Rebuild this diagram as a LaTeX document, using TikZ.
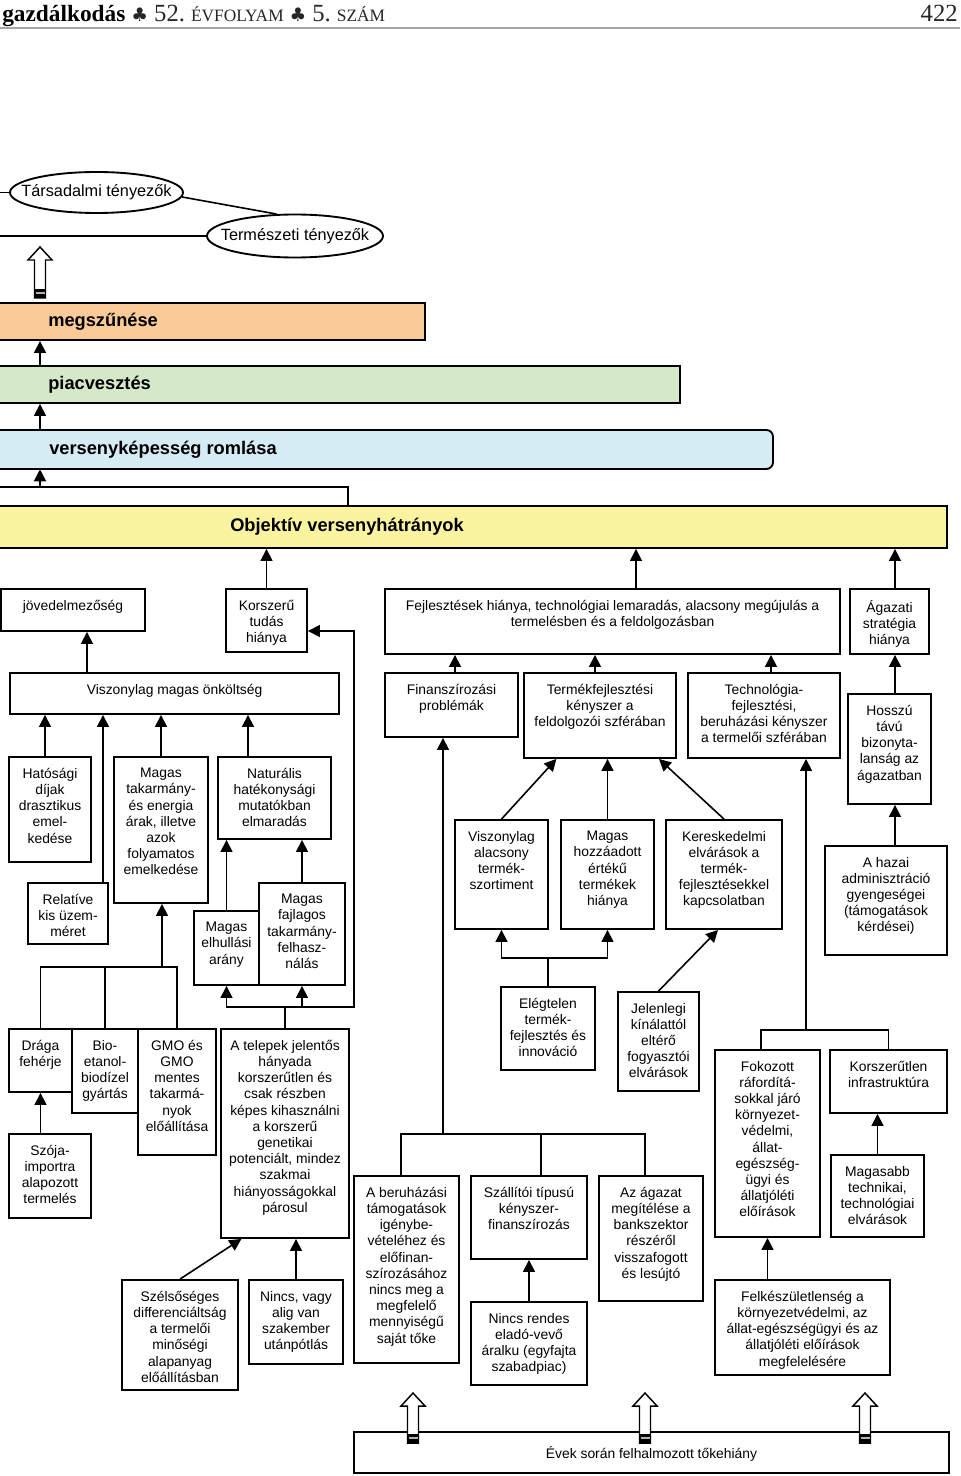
\documentclass[tikz,border=0pt]{standalone}
\usepackage{fontspec}
\setmainfont{Liberation Sans}
\newfontfamily\hdrfont{Liberation Serif}
\newfontfamily\symfont{DejaVu Sans}
\usepackage{xcolor}
\usepackage{tikz}
\usetikzlibrary{arrows.meta,fit,shapes.geometric}

\definecolor{peach}{RGB}{250,202,152}
\definecolor{sage}{RGB}{213,232,200}
\definecolor{skyblue}{RGB}{214,236,245}
\definecolor{lemon}{RGB}{250,244,160}

% box with its text set at the top
\newcommand{\cause}[6]{%
  \node[block, fit={(#2,#3)(#4,#5)}] (#1) {};
  \node[txt] (#1-t) at ([yshift=-8.8pt]#1.north) {#6};
}
% hollow block arrow: x, tip, bottom
\newcommand{\hollowarrow}[3]{%
  \draw[line width=1.1pt, fill=white] (#1-5.5,#3) -- (#1-5.5,#2+13) -- (#1-12,#2+13) -- (#1,#2)
    -- (#1+12,#2+13) -- (#1+5.5,#2+13) -- (#1+5.5,#3) -- cycle;
  \fill (#1-5.5,#3-9) rectangle (#1+5.5,#3);
  \draw[gray!60, line width=0.8pt] (#1-4.5,#3-5) -- (#1+4.5,#3-5);
}

\begin{document}
\begin{tikzpicture}[x=0.75pt, y=-0.75pt,
    block/.style={rectangle, draw, line width=1.4pt, inner sep=0pt},
    txt/.style={anchor=north, align=center, inner sep=0pt, font=\fontsize{10.4}{12.15}\selectfont},
    band/.style={rectangle, draw, line width=1.4pt, inner sep=0pt},
    bandtext/.style={anchor=west, inner sep=0pt, font=\fontsize{13.7}{16}\selectfont\bfseries},
    oval/.style={ellipse, draw, line width=1.4pt, inner sep=0pt},
    ovaltext/.style={inner sep=0pt, font=\fontsize{12.2}{14}\selectfont},
    arrow/.style={-{Triangle[width=9pt,length=9pt]}, line width=1.2pt},
    link/.style={line width=1.2pt}
]
    \useasboundingbox (0,0) rectangle (960,1476);

    % page header
    \node[anchor=base west, inner sep=0pt, text=black!85] (head) at (2,22) {\hdrfont\fontsize{18.5}{20}\selectfont
      {\bfseries\fontsize{17.5}{20}\selectfont\color{black}gazdálkodás}\hspace{4.5pt}{\symfont\fontsize{14}{14}\selectfont ♣}\hspace{4.5pt}52.\hspace{4.5pt}{\fontsize{13}{14}\selectfont ÉVFOLYAM}\hspace{4.5pt}{\symfont\fontsize{14}{14}\selectfont ♣}\hspace{4.5pt}5.\hspace{4.5pt}{\fontsize{13}{14}\selectfont SZÁM}};
    \node[anchor=base east, inner sep=0pt, text=black!85] (pagenr) at (958,22) {\hdrfont\fontsize{18.5}{20}\selectfont 422};
    \draw[gray!70, line width=1.5pt] (0,28) -- (960,28);

    % column guides
    \coordinate (bandx) at (40,0);
    \coordinate (objx) at (348,0);
    \coordinate (fejlx) at (636,0);
    \coordinate (agazx) at (895,0);
    \coordinate (onkx) at (87,0);
    \coordinate (hatx) at (45,0);
    \coordinate (relx) at (103,0);
    \coordinate (natx) at (248,0);
    \coordinate (finx) at (455,0);
    \coordinate (termx) at (595,0);
    \coordinate (technx) at (771,0);
    \coordinate (beruhx) at (401,0);
    \coordinate (szallx) at (541,0);
    \coordinate (bankx) at (645,0);
    \coordinate (fokozx) at (761,0);

    % factors
    \node[oval, minimum width=129.75pt, minimum height=30.75pt] (tars) at (96.5,192.5) {};
    \node[ovaltext] (tars-t) at (tars.center) {Társadalmi tényezők};
    \node[oval, minimum width=132pt, minimum height=32.25pt] (term) at (295,236) {};
    \node[ovaltext] (term-t) at (term.center) {Természeti tényezők};
    \coordinate (tarsend) at (0,192.5);
    \coordinate (termend) at (0,236);
    \draw[link] (tarsend) -- (tars.west);
    \draw[link] (termend) -- (term.west);
    \draw[link] (tars.-3) -- (term.130);
    \hollowarrow{40}{247}{298}

    % bands
    \node[band, fill=peach, fit={(-3,303)(425,340)}] (megsz) {};
    \node[bandtext] (megsz-t) at (48,321.5) {megszűnése};
    \node[band, fill=sage, fit={(-3,366)(680,403)}] (piac) {};
    \node[bandtext] (piac-t) at (48,384.5) {piacvesztés};
    \filldraw[fill=skyblue, line width=1.4pt] (-3,469) -- (-3,430) [rounded corners=5pt] -- (773,430) -- (773,469) -- (-3,469);
    \node[fit={(-3,430)(773,469)}, inner sep=0pt] (vk) {};
    \node[bandtext] (vk-t) at (49,449.5) {versenyképesség romlása};
    \node[band, fill=lemon, fit={(-3,506)(947,548)}] (obj) {};
    \node[bandtext] (obj-t) at (230,527) {Objektív versenyhátrányok};

    \draw[arrow] (piac.north -| bandx) -- (megsz.south -| bandx);
    \draw[arrow] (vk.north -| bandx) -- (piac.south -| bandx);
    \coordinate (vkin) at (0,487);
    \draw[link] (obj.north -| objx) |- (vkin);
    \draw[arrow] (vkin -| bandx) -- (vk.south -| bandx);

    % second row
    \cause{jov}{1}{589}{145}{631}{jövedelmezőség}
    \cause{korsz}{226}{589}{307}{652}{Korszerű\\tudás\\hiánya}
    \cause{fejl}{385}{589}{840}{654}{Fejlesztések hiánya, technológiai lemaradás, alacsony megújulás a\\termelésben és a feldolgozásban}
    \cause{agaz}{850}{589}{929}{654}{Ágazati\\stratégia\\hiánya}

    % third row
    \cause{onk}{10}{673}{339}{714}{Viszonylag magas önköltség}
    \cause{fin}{385}{673}{518}{737}{Finanszírozási\\problémák}
    \cause{termf}{524}{673}{676}{758}{Termékfejlesztési\\kényszer a\\feldolgozói szférában}
    \cause{techn}{688}{673}{840}{758}{Technológia-\\fejlesztési,\\beruházási kényszer\\a termelői szférában}
    \cause{hossz}{848}{694}{931}{804}{Hosszú\\távú\\bizonyta-\\lanság az\\ágazatban}

    % fourth row
    \cause{hat}{9}{757}{91}{862}{Hatósági\\díjak\\drasztikus\\emel-\\kedése}
    \cause{rel}{28}{883}{108}{944}{Relatíve\\kis üzem-\\méret}
    \cause{takar}{114}{757}{208}{903}{Magas\\takarmány-\\és energia\\árak, illetve\\azok\\folyamatos\\emelkedése}
    \cause{nat}{218}{757}{331}{839}{Naturális\\hatékonysági\\mutatókban\\elmaradás}
    \cause{elh}{194}{911}{259}{985}{Magas\\elhullási\\arány}
    \cause{fajl}{259}{883}{345}{985}{Magas\\fajlagos\\takarmány-\\felhasz-\\nálás}
    \cause{vasz}{455}{820}{548}{929}{Viszonylag\\alacsony\\termék-\\szortiment}
    \cause{hozz}{561}{820}{654}{929}{Magas\\hozzáadott\\értékű\\termékek\\hiánya}
    \cause{keresk}{666}{820}{782}{929}{Kereskedelmi\\elvárások a\\termék-\\fejlesztésekkel\\kapcsolatban}
    \cause{hazai}{825}{846}{947}{955}{A hazai\\adminisztráció\\gyengeségei\\(támogatások\\kérdései)}

    % fifth row
    \cause{draga}{9}{1029}{72}{1092}{Drága\\fehérje}
    \cause{bio}{72}{1029}{138}{1113}{Bio-\\etanol-\\biodízel\\gyártás}
    \cause{gmo}{138}{1029}{216}{1155}{GMO és\\GMO\\mentes\\takarmá-\\nyok\\előállítása}
    \cause{telep}{221}{1029}{349}{1238}{A telepek jelentős\\hányada\\korszerűtlen és\\csak részben\\képes kihasználni\\a korszerű\\genetikai\\potenciált, mindez\\szakmai\\hiányosságokkal\\párosul}
    \cause{szoja}{9}{1134}{91}{1218}{Szója-\\importra\\alapozott\\termelés}
    \cause{eleg}{501}{987}{595}{1070}{Elégtelen\\termék-\\fejlesztés és\\innováció}
    \cause{jelen}{618}{992}{699}{1091}{Jelenlegi\\kínálattól\\eltérő\\fogyasztói\\elvárások}
    \cause{fokoz}{715}{1050}{820}{1237}{Fokozott\\ráfordítá-\\sokkal járó\\környezet-\\védelmi,\\állat-\\egészség-\\ügyi és\\állatjóléti\\előírások}
    \cause{infra}{830}{1050}{947}{1113}{Korszerűtlen\\infrastruktúra}
    \cause{magasabb}{831}{1155}{924}{1237}{Magasabb\\technikai,\\technológiai\\elvárások}

    % sixth row
    \cause{beruh}{354}{1176}{459}{1363}{A beruházási\\támogatások\\igénybe-\\vételéhez és\\előfinan-\\szírozásához\\nincs meg a\\megfelelő\\mennyiségű\\saját tőke}
    \cause{szall}{471}{1176}{587}{1259}{Szállítói típusú\\kényszer-\\finanszírozás}
    \cause{bank}{599}{1176}{703}{1301}{Az ágazat\\megítélése a\\bankszektor\\részéről\\visszafogott\\és lesújtó}
    \cause{szels}{122}{1280}{238}{1390}{Szélsőséges\\differenciáltság\\a termelői\\minőségi\\alapanyag\\előállításban}
    \cause{nincs}{249}{1280}{343}{1364}{Nincs, vagy\\alig van\\szakember\\utánpótlás}
    \cause{rendes}{471}{1302}{587}{1385}{Nincs rendes\\eladó-vevő\\áralku (egyfajta\\szabadpiac)}
    \cause{felk}{715}{1280}{890}{1375}{Felkészületlenség a\\környezetvédelmi, az\\állat-egészségügyi és az\\állatjóléti előírások\\megfelelésére}

    \node[block, fit={(354,1432)(949,1473)}] (evek) {};
    \node[txt, anchor=center] (evek-t) at ([yshift=-1pt]evek.center) {Évek során felhalmozott tőkehiány};

    % into Objektív versenyhátrányok
    \draw[arrow] (korsz.north) -- (korsz.north |- obj.south);
    \draw[arrow] (fejl.north -| fejlx) -- (obj.south -| fejlx);
    \draw[arrow] (agaz.north -| agazx) -- (obj.south -| agazx);
    \draw[arrow] (onk.north -| onkx) -- (jov.south -| onkx);
    \draw[arrow] (fin.north -| finx) -- (fejl.south -| finx);
    \draw[arrow] (termf.north -| termx) -- (fejl.south -| termx);
    \draw[arrow] (techn.north -| technx) -- (fejl.south -| technx);
    \draw[arrow] (hossz.north -| agazx) -- (agaz.south -| agazx);
    \draw[arrow] (hazai.north -| agazx) -- (hossz.south -| agazx);

    % cost side
    \draw[arrow] (hat.north -| hatx) -- (onk.south -| hatx);
    \draw[arrow] (rel.north -| relx) -- (onk.south -| relx);
    \draw[arrow] (takar.north) -- (takar.north |- onk.south);
    \draw[arrow] (nat.north -| natx) -- (onk.south -| natx);
    \draw[arrow] (elh.north) -- (elh.north |- nat.south);
    \draw[arrow] (fajl.north) -- (fajl.north |- nat.south);
    \coordinate (feedj) at (162,967);
    \draw[link] (draga.north) |- (feedj);
    \draw[link] (gmo.north) |- (feedj);
    \draw[link] (bio.north) -- (bio.north |- feedj);
    \draw[arrow] (feedj) -- (takar.south -| feedj);
    \draw[arrow] (szoja.north -| draga.south) -- (draga.south);
    \coordinate (telepj) at (285,1007);
    \coordinate (korszj) at (354,631);
    \draw[link] (telep.north) -- (telepj);
    \draw[arrow] (telepj) -| (elh.south);
    \draw[arrow] (telepj) -| (fajl.south);
    \draw[arrow] (telepj) -| (korszj) -- (korsz.east |- korszj);
    \draw[arrow] (szels.north) -- ([xshift=16pt]telep.south west);
    \draw[arrow] (nincs.north) -- (nincs.north |- telep.south);

    % development side
    \draw[arrow] (vasz.north) -- ([xshift=25pt]termf.south west);
    \draw[arrow] (hozz.north) -- (hozz.north |- termf.south);
    \draw[arrow] (keresk.north) -- ([xshift=-13.5pt]termf.south east);
    \coordinate (elegj) at (548,958);
    \draw[link] (eleg.north) -- (elegj);
    \draw[arrow] (elegj) -| (vasz.south);
    \draw[arrow] (elegj) -| (hozz.south);
    \draw[arrow] (jelen.north) -- ([xshift=-4.5pt]keresk.south);
    \coordinate (finj) at (443,1134);
    \draw[arrow] (finj) -- (fin.south -| finj);
    \draw[link] (beruh.north -| beruhx) |- (finj) -| (bank.north -| bankx);
    \draw[link] (szall.north -| szallx) -- (finj -| szallx);
    \draw[arrow] (rendes.north) -- (szall.south);
    \coordinate (technj) at (806,1030);
    \draw[arrow] (technj) -- (techn.south -| technj);
    \draw[link] (fokoz.north -| fokozx) |- (technj) -| (infra.north);
    \draw[arrow] (magasabb.north) -- (magasabb.north |- infra.south);
    \draw[arrow] (felk.north -| fokoz.south) -- (fokoz.south);

    % capital shortage
    \hollowarrow{413}{1393}{1443}
    \hollowarrow{645}{1393}{1443}
    \hollowarrow{865}{1393}{1443}
\end{tikzpicture}
\end{document}
